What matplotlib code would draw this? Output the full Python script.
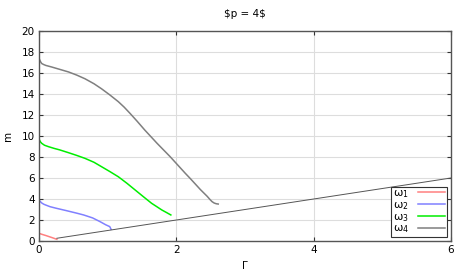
import matplotlib
matplotlib.use("Agg")
import matplotlib.pyplot as plt

title = r"\$p = 4\$"
xlabel = "Γ"
ylabel = "m"

# omega_1
w1_x = [0.0, 0.05, 0.10, 0.15, 0.20, 0.26]
w1_y = [0.73, 0.62, 0.52, 0.41, 0.30, 0.16]
# omega_2
w2_x = [0.0, 0.02, 0.04, 0.07, 0.10, 0.16, 0.25, 0.40, 0.55, 0.65, 0.78, 0.89, 0.97, 1.03, 1.05]
w2_y = [3.90, 3.75, 3.62, 3.50, 3.42, 3.27, 3.12, 2.89, 2.65, 2.48, 2.20, 1.84, 1.55, 1.37, 1.11]
# omega_3
w3_x = [0.0, 0.02, 0.04, 0.08, 0.14, 0.22, 0.30, 0.43, 0.55, 0.67, 0.80, 0.91, 1.03, 1.155, 1.28, 1.40, 1.52, 1.64, 1.72, 1.79, 1.86, 1.92]
w3_y = [9.70, 9.45, 9.30, 9.12, 8.98, 8.82, 8.68, 8.41, 8.15, 7.87, 7.50, 7.08, 6.62, 6.12, 5.50, 4.86, 4.22, 3.59, 3.25, 2.95, 2.70, 2.48]
# omega_4
w4_x = [0.0, 0.02, 0.04, 0.07, 0.10, 0.18, 0.30, 0.43, 0.55, 0.67, 0.80, 0.91, 1.03, 1.155, 1.24, 1.325, 1.43, 1.54, 1.72, 1.91, 2.13, 2.20, 2.35, 2.45, 2.49, 2.52, 2.55, 2.58, 2.61]
w4_y = [17.40, 17.10, 16.90, 16.80, 16.72, 16.58, 16.35, 16.10, 15.80, 15.45, 14.98, 14.50, 13.92, 13.27, 12.75, 12.16, 11.40, 10.57, 9.30, 8.03, 6.45, 5.97, 4.90, 4.25, 3.95, 3.75, 3.62, 3.55, 3.52]
# reference line m = Γ
ref_x = [0.26, 6.0]
ref_y = [0.26, 6.0]

series = [
    (w1_x, w1_y, r"$\mathregular{\omega_1}$", "#ff8080"),
    (w2_x, w2_y, r"$\mathregular{\omega_2}$", "#8080ff"),
    (w3_x, w3_y, r"$\mathregular{\omega_3}$", "#00ee00"),
    (w4_x, w4_y, r"$\mathregular{\omega_4}$", "#7f7f7f"),
]

xticks = [0, 2, 4, 6]
yticks = list(range(0, 21, 2))

fig = plt.figure(figsize=(4.65, 2.73), dpi=100)
ax = fig.add_axes([39/465, 32/273, 412/465, 210/273])

for xs, ys, lab, col in series:
    ax.plot(xs, ys, color=col, lw=1.1, label=lab)
ax.plot(ref_x, ref_y, color="#555555", lw=0.7)

ax.set_xlim(0, 6)
ax.set_ylim(0, 20)
ax.set_xticks(xticks)
ax.set_yticks(yticks)
ax.grid(True, color="#dddddd", lw=0.8)
ax.set_axisbelow(True)
ax.tick_params(direction="in", top=True, right=True, labelsize=7.5, length=3, color="#333333", pad=3)
for s in ax.spines.values():
    s.set_color("#555555")
    s.set_linewidth(1.0)

ax.set_title(title, fontsize=7.5, pad=10)
ax.set_xlabel(xlabel, fontsize=7.5, labelpad=4)
ax.set_ylabel(ylabel, fontsize=7.5, labelpad=6)

leg = ax.legend(loc="lower right", markerfirst=False, fontsize=8, frameon=True,
                fancybox=False, edgecolor="#333333", framealpha=1,
                handlelength=2.5, borderpad=0.15, labelspacing=0.0, handletextpad=0.8,
                borderaxespad=0.35)
leg.get_frame().set_linewidth(0.8)

fig.savefig("out.png", dpi=100)
